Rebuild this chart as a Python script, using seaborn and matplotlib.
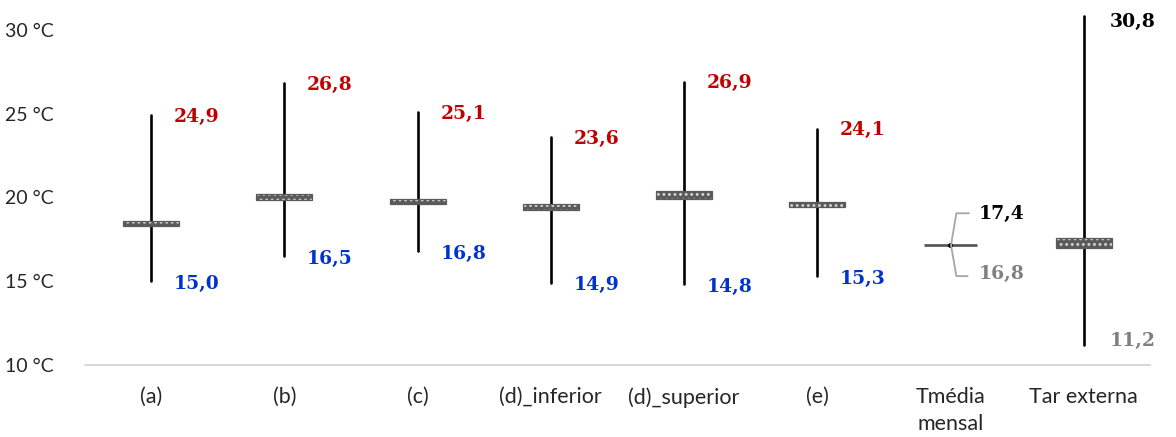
import matplotlib
matplotlib.use("Agg")
import matplotlib.pyplot as plt
import seaborn as sns
import pandas as pd
import numpy as np

categories = ["(a)", "(b)", "(c)", "(d)_inferior", "(d)_superior", "(e)", "Tmédia\nmensal", "Tar externa"]
max_vals = [24.9, 26.8, 25.1, 23.6, 26.9, 24.1, 17.4, 30.8]
min_vals = [15.0, 16.5, 16.8, 14.9, 14.8, 15.3, 16.8, 11.2]
box_top = [18.6, 20.2, 19.9, 19.6, 20.4, 19.7, 17.15, 17.55]
box_bottom = [18.3, 19.85, 19.6, 19.25, 19.9, 19.4, 17.15, 16.95]
max_labels = ["24,9", "26,8", "25,1", "23,6", "26,9", "24,1", "17,4", "30,8"]
min_labels = ["15,0", "16,5", "16,8", "14,9", "14,8", "15,3", "16,8", "11,2"]
max_colors = ["#C00000"] * 6 + ["#000000", "#000000"]
min_colors = ["#0033CC"] * 6 + ["#808080", "#808080"]
yticks = [10, 15, 20, 25, 30]
ytick_labels = ["10 °C", "15 °C", "20 °C", "25 °C", "30 °C"]

sns.set_theme(style="white")
plt.rcParams["font.family"] = ["Lato", "DejaVu Sans"]
plt.rcParams["hatch.linewidth"] = 1.3

fig = plt.figure(figsize=(11.76, 4.37), dpi=100)
ax = fig.add_axes([0.072, 0.165, 0.906, 0.805])

# range lines (skip Tmédia mensal which is a single marker)
range_idx = [i for i in range(len(categories)) if i != 6]
long = pd.DataFrame({
    "cat": [categories[i] for i in range_idx for _ in range(2)],
    "pos": [i for i in range_idx for _ in range(2)],
    "val": [v for i in range_idx for v in (min_vals[i], max_vals[i])],
})
sns.lineplot(data=long, x="pos", y="val", units="cat", estimator=None,
             color="black", linewidth=1.9, ax=ax, legend=False, sort=False)
for line in ax.lines:
    line.set_clip_on(False)

pos = np.arange(len(categories))
bw = 0.42
for i in range(len(categories)):
    if i == 6:
        ax.plot([i - 0.2, i + 0.2], [box_top[i], box_top[i]], color="#595959", lw=2, solid_capstyle="butt")
        ax.plot([i], [box_top[i]], marker="o", ms=2.5, color="black")
        continue
    ax.bar(i, box_top[i] - box_bottom[i], bottom=box_bottom[i], width=bw,
           color="#5a5a5a", edgecolor="#d5d5d5", hatch="...", linewidth=0, zorder=3)
    ax.bar(i, box_top[i] - box_bottom[i], bottom=box_bottom[i], width=bw,
           color="none", edgecolor="#5a5a5a", linewidth=0.9, zorder=4)

lab_font = dict(family="DejaVu Serif", fontweight="bold", fontsize=13.5)
for i in range(len(categories)):
    if i == 6:
        ymx, ymn, dx = 19.0, 15.4, 0.21
        ax.plot([i + 0.005, i + 0.045, i + 0.14], [box_top[i], 19.05, 19.05], color="#a6a6a6", lw=1.3)
        ax.plot([i + 0.005, i + 0.045, i + 0.13], [box_top[i], 15.3, 15.3], color="#a6a6a6", lw=1.3)
    elif i == 7:
        ymx, ymn, dx = max_vals[i] - 0.35, min_vals[i] + 0.2, 0.2
    else:
        ymx, ymn, dx = max_vals[i] - 0.1, min_vals[i] - 0.15, 0.17
    ax.text(i + dx, ymx, max_labels[i], color=max_colors[i], va="center", ha="left", **lab_font)
    ax.text(i + dx, ymn, min_labels[i], color=min_colors[i], va="center", ha="left", **lab_font)

ax.set_xlim(-0.5, len(categories) - 0.5)
ax.set_ylim(10, 31)
ax.set_yticks(yticks)
ax.set_yticklabels(ytick_labels, fontsize=14, color="#262626")
ax.set_xticks(pos)
ax.set_xticklabels(categories, fontsize=15.5, color="#262626", linespacing=1.45, va="top")
ax.set_xticks(np.arange(-0.5, len(categories), 1), minor=True)
ax.tick_params(axis="x", which="major", length=0, pad=16)
ax.tick_params(axis="x", which="minor", length=6, color="#d0d0d0", width=1, direction="out")
ax.tick_params(axis="y", length=0, pad=22)
ax.set_xlabel("")
ax.set_ylabel("")
for s in ["top", "right", "left"]:
    ax.spines[s].set_visible(False)
ax.spines["bottom"].set_color("#d0d0d0")
ax.spines["bottom"].set_linewidth(1.2)
ax.grid(False)

fig.savefig("out.png", dpi=100)
